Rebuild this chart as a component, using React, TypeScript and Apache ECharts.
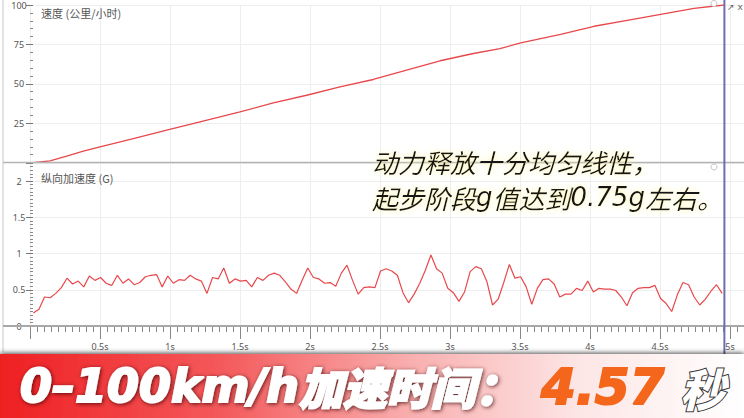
import React, { useEffect, useRef } from 'react';
import * as echarts from 'echarts';

// speed trace, km/h, read at these times (s)
const speedTimes = [0.036, 0.143, 0.262, 0.381, 0.5, 0.738, 0.976, 1.214, 1.5, 1.738, 1.976, 2.214, 2.452, 2.69, 2.929, 3.167, 3.357, 3.505, 3.79, 4.029, 4.266, 4.505, 4.743, 4.957];
const speedValues = [0, 1, 4, 7.2, 9.9, 15.2, 20.5, 25.8, 32.1, 37.9, 42.7, 48, 52.7, 58.6, 64.6, 69.2, 72.3, 75.9, 81.4, 86.5, 90.3, 94.1, 97.8, 100];

// longitudinal acceleration (G), logged every 0.04 s
const accelStart = 0.024;
const accelStep = 0.04;
const accelValues = [
  0.18, 0.23, 0.40, 0.39, 0.45, 0.53, 0.66, 0.58, 0.62, 0.54, 0.69, 0.63, 0.67, 0.59, 0.56, 0.70, 0.59, 0.65, 0.57, 0.60,
  0.68, 0.70, 0.71, 0.54, 0.69, 0.59, 0.64, 0.63, 0.70, 0.65, 0.62, 0.45, 0.67, 0.65, 0.80, 0.59, 0.65, 0.62, 0.63, 0.54,
  0.67, 0.63, 0.70, 0.73, 0.70, 0.61, 0.51, 0.45, 0.63, 0.80, 0.67, 0.65, 0.59, 0.60, 0.55, 0.73, 0.84, 0.63, 0.44, 0.53,
  0.54, 0.53, 0.76, 0.79, 0.76, 0.70, 0.46, 0.32, 0.44, 0.59, 0.77, 0.98, 0.79, 0.73, 0.52, 0.46, 0.34, 0.47, 0.75, 0.82,
  0.79, 0.61, 0.29, 0.37, 0.60, 0.85, 0.66, 0.68, 0.54, 0.30, 0.52, 0.64, 0.65, 0.58, 0.40, 0.44, 0.44, 0.52, 0.49, 0.62,
  0.47, 0.52, 0.51, 0.51, 0.49, 0.40, 0.28, 0.46, 0.52, 0.53, 0.53, 0.56, 0.38, 0.31, 0.20, 0.43, 0.60, 0.57, 0.40, 0.29,
  0.37, 0.48, 0.57, 0.45
];

const cursorTime = 4.96;
const speedTitle = '速度 (公里/小时)';
const accelTitle = '纵向加速度 (G)';
const noteLines = ['动力释放十分均匀线性，', '起步阶段g值达到0.75g左右。'];
const bannerLabel = '0–100km/h';
const bannerLabelCn = '加速时间：';
const bannerValue = '4.57';
const bannerUnit = '秒';

const LINE = '#e8484c';
const GRID_LINE = '#eeeeee';
const LABEL = '#555';

export default function App() {
  const chartRef = useRef<HTMLDivElement>(null);

  useEffect(() => {
    if (!chartRef.current) return;
    const chart = echarts.init(chartRef.current, null, { renderer: 'svg' });

    const speedData = speedTimes.map((t, i) => [t, speedValues[i]]);
    const accelData = accelValues.map((g, i) => [accelStart + i * accelStep, g]);

    // latin runs of the note in a wider face, like the source caption
    const noteText = noteLines
      .map((l) => l.replace(/([0-9A-Za-z.]+)/g, '{l|$1}'))
      .join('\n');

    const xBase = {
      type: 'value',
      min: 0,
      max: 5.1,
      interval: 0.5,
      splitLine: { show: true, lineStyle: { color: GRID_LINE } },
    };

    const yLabel = {
      color: LABEL,
      fontSize: 9,
      align: 'center',
      margin: 14,
      fontFamily: 'Noto Sans',
    };

    chart.setOption({
      animation: false,
      backgroundColor: '#fff',
      title: [
        { text: speedTitle, left: 36, top: 2, textStyle: { fontSize: 11, fontWeight: 'normal', color: LABEL, fontFamily: 'Noto Sans CJK SC' } },
        { text: accelTitle, left: 36, top: 167, textStyle: { fontSize: 11, fontWeight: 'normal', color: LABEL, fontFamily: 'Noto Sans CJK SC' } },
      ],
      grid: [
        { left: 30, right: 0, top: 5, height: 157.5 },
        { left: 30, right: 0, top: 163, height: 163 },
      ],
      xAxis: [
        {
          ...xBase,
          gridIndex: 0,
          axisLine: { show: false },
          axisTick: { show: false },
          axisLabel: { show: false },
        },
        {
          ...xBase,
          gridIndex: 1,
          axisLine: { show: false },
          axisTick: { show: true, length: 13, lineStyle: { color: '#888' } },
          minorTick: { show: true, splitNumber: 10, length: 6, lineStyle: { color: '#888' } },
          axisLabel: {
            color: LABEL,
            fontSize: 9,
            margin: 16,
            showMinLabel: false,
            showMaxLabel: false,
            fontFamily: 'Noto Sans',
            formatter: (v: number) => `${v}s`,
          },
        },
      ],
      yAxis: [
        {
          type: 'value',
          gridIndex: 0,
          min: 0,
          max: 100,
          interval: 25,
          offset: -3,
          axisLine: { show: false },
          axisTick: { show: true, length: 7, lineStyle: { color: '#777' } },
          minorTick: { show: true, splitNumber: 5, length: 3, lineStyle: { color: '#888' } },
          splitLine: { lineStyle: { color: GRID_LINE } },
          axisLabel: { ...yLabel, showMinLabel: false },
        },
        {
          type: 'value',
          gridIndex: 1,
          min: 0,
          max: 2.25,
          interval: 0.5,
          offset: -3,
          axisLine: { show: false },
          axisTick: { show: true, length: 7, lineStyle: { color: '#777' } },
          minorTick: { show: true, splitNumber: 10, length: 3, lineStyle: { color: '#888' } },
          splitLine: { lineStyle: { color: GRID_LINE } },
          axisLabel: { ...yLabel, showMaxLabel: false },
        },
      ],
      series: [
        {
          type: 'line',
          xAxisIndex: 0,
          yAxisIndex: 0,
          data: speedData,
          symbol: 'none',
          lineStyle: { color: LINE, width: 1.3 },
        },
        {
          type: 'line',
          xAxisIndex: 1,
          yAxisIndex: 1,
          data: accelData,
          symbol: 'none',
          lineStyle: { color: LINE, width: 1.2 },
        },
      ],
      graphic: [
        { type: 'line', shape: { x1: 3, y1: 0, x2: 3, y2: 352 }, style: { stroke: '#c8c8c8', lineWidth: 1 }, z: 5 },
        { type: 'line', shape: { x1: 3, y1: 162.5, x2: 744, y2: 162.5 }, style: { stroke: '#b4b4b4', lineWidth: 1.5 }, z: 5 },
        { type: 'line', shape: { x1: 3, y1: 326, x2: 744, y2: 326 }, style: { stroke: '#a8a8a8', lineWidth: 2 }, z: 5 },
        { type: 'circle', shape: { cx: 714, cy: 3.5, r: 3 }, style: { fill: '#fff', stroke: '#c4c4c4', lineWidth: 1 }, z: 5 },
        { type: 'circle', shape: { cx: 714, cy: 167, r: 3 }, style: { fill: '#fff', stroke: '#c4c4c4', lineWidth: 1 }, z: 5 },
        { type: 'text', x: 727, y: 2, style: { text: '↗ x', fill: '#666', fontSize: 9, fontFamily: 'DejaVu Sans' }, z: 5 },
        {
          type: 'text',
          x: 372,
          y: 143,
          z: 20,
          style: {
            text: noteText,
            fill: '#141414',
            fontSize: 26,
            lineHeight: 36,
            fontStyle: 'italic',
            fontFamily: 'Noto Sans CJK SC',
            textShadowColor: '#fff6a8',
            textShadowBlur: 6,
            rich: {
              l: {
                fontSize: 26,
                lineHeight: 36,
                fontStyle: 'italic',
                fontFamily: 'DejaVu Sans',
                fill: '#141414',
                textShadowColor: '#fff6a8',
                textShadowBlur: 6,
              },
            },
          },
        },
        {
          type: 'rect',
          shape: { x: 0, y: 354, width: 744, height: 64 },
          z: 30,
          style: {
            fill: new echarts.graphic.LinearGradient(0, 0, 1, 0, [
              { offset: 0, color: '#ef1f22' },
              { offset: 0.3, color: '#f45a5c' },
              { offset: 0.55, color: '#f9aeae' },
              { offset: 0.78, color: '#fde6e6' },
              { offset: 1, color: '#ffffff' },
            ]),
            shadowBlur: 5,
            shadowOffsetY: -1,
            shadowColor: 'rgba(0,0,0,0.7)',
          },
        },
        {
          type: 'text',
          x: 20,
          y: 386,
          z: 31,
          style: {
            text: `{a|${bannerLabel}}{b|${bannerLabelCn}}`,
            fill: '#fff',
            verticalAlign: 'middle',
            textShadowColor: 'rgba(60,0,0,0.8)',
            textShadowBlur: 4,
            textShadowOffsetX: 1,
            textShadowOffsetY: 1,
            rich: {
              a: { fontSize: 46, fontWeight: 'bold', fontStyle: 'italic', fontFamily: 'DejaVu Sans', fill: '#fff', stroke: '#fff', lineWidth: 2 },
              b: { fontSize: 44, fontWeight: 900, fontStyle: 'italic', fontFamily: 'Noto Sans CJK SC', fill: '#fff', stroke: '#fff', lineWidth: 2 },
            },
          },
        },
        {
          type: 'text',
          x: 541,
          y: 387,
          z: 31,
          style: {
            text: bannerValue,
            fill: '#f4661b',
            stroke: '#f4661b',
            lineWidth: 2,
            verticalAlign: 'middle',
            fontSize: 50,
            fontWeight: 'bold',
            fontStyle: 'italic',
            fontFamily: 'DejaVu Sans',
          },
        },
        {
          type: 'text',
          x: 680,
          y: 387,
          z: 31,
          style: {
            text: bannerUnit,
            fill: '#fff',
            stroke: '#333',
            lineWidth: 2,
            verticalAlign: 'middle',
            fontSize: 45,
            fontWeight: 900,
            fontStyle: 'italic',
            fontFamily: 'Noto Sans CJK SC',
          },
        },
      ],
    });

    // cursor line placed through the x scale
    const cx = chart.convertToPixel({ xAxisIndex: 1 }, cursorTime) as number;
    chart.setOption({
      graphic: [
        {
          id: 'cursor',
          type: 'line',
          z: 25,
          shape: { x1: cx, y1: 0, x2: cx, y2: 354 },
          style: { stroke: '#6e6eae', lineWidth: 2 },
        },
      ],
    });

    return () => chart.dispose();
  }, []);

  return (
    <div
      ref={chartRef}
      style={{ position: 'fixed', left: 0, top: 0, width: 744, height: 418 }}
    />
  );
}
